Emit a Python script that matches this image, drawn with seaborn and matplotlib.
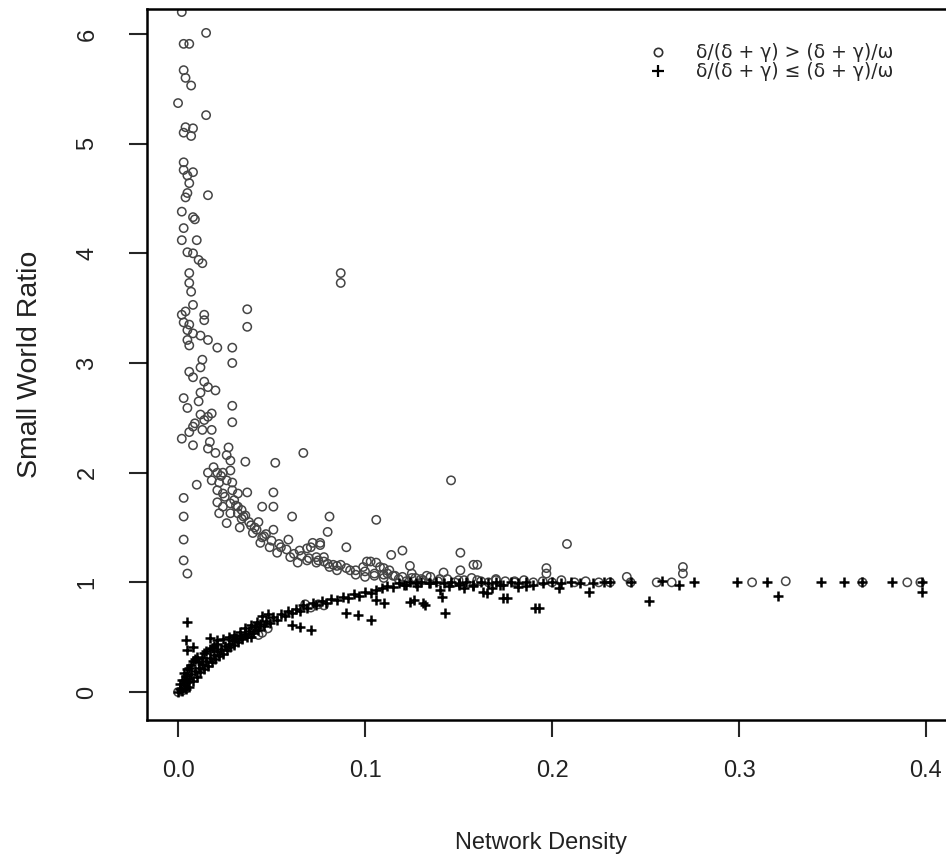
import numpy as np
import pandas as pd
import matplotlib
matplotlib.use("Agg")
import matplotlib.pyplot as plt
from matplotlib.lines import Line2D
import seaborn as sns

# circles: delta/(delta+gamma) > (delta+gamma)/omega
circ_x = [0.002, 0.015, 0.003, 0.006, 0.003, 0.004, 0.007, 0.000, 0.015, 0.004, 0.008, 0.003, 0.007,
          0.003, 0.003, 0.008, 0.005, 0.006, 0.004, 0.005, 0.016, 0.002, 0.008, 0.009, 0.003, 0.002,
          0.010, 0.005, 0.008, 0.011, 0.013, 0.006, 0.006, 0.087, 0.087, 0.007, 0.008, 0.037, 0.002,
          0.014, 0.003, 0.014, 0.037, 0.005, 0.008, 0.012, 0.016, 0.021, 0.029, 0.006, 0.005, 0.029,
          0.013, 0.012, 0.006, 0.008, 0.014, 0.016, 0.020, 0.012, 0.003, 0.005, 0.029, 0.012, 0.016,
          0.014, 0.018, 0.029, 0.008, 0.013, 0.018, 0.006, 0.002, 0.008, 0.016, 0.020, 0.027, 0.026,
          0.028, 0.036, 0.067, 0.052, 0.010, 0.016, 0.021, 0.024, 0.028, 0.018, 0.022, 0.026, 0.029,
          0.021, 0.024, 0.029, 0.032, 0.037, 0.051, 0.003, 0.003, 0.021, 0.024, 0.028, 0.032, 0.034,
          0.045, 0.051, 0.022, 0.028, 0.032, 0.036, 0.061, 0.081, 0.106, 0.026, 0.033, 0.039, 0.043,
          0.040, 0.045, 0.051, 0.080, 0.044, 0.049, 0.055, 0.059, 0.003, 0.090, 0.053, 0.060, 0.065,
          0.071, 0.076, 0.003, 0.005, 0.064, 0.069, 0.074, 0.078, 0.081, 0.085, 0.092, 0.099, 0.103,
          0.108, 0.112, 0.069, 0.072, 0.076, 0.074, 0.078, 0.083, 0.087, 0.114, 0.120, 0.124, 0.101,
          0.106, 0.110, 0.151, 0.151, 0.160, 0.142, 0.158, 0.208, 0.197, 0.197, 0.240, 0.270, 0.270,
          0.325, 0.146,
          0.231, 0.242, 0.256, 0.264, 0.307, 0.366, 0.390, 0.397,
          0.118, 0.122, 0.127, 0.131, 0.135, 0.139, 0.144, 0.148, 0.153, 0.157, 0.162, 0.166, 0.170,
          0.175, 0.180, 0.185, 0.190, 0.195, 0.200, 0.205, 0.212, 0.218, 0.225,
          0.095, 0.100, 0.105, 0.110, 0.116, 0.125, 0.133, 0.113,
          0.030, 0.035, 0.038, 0.042, 0.046, 0.050, 0.054, 0.058, 0.062, 0.066, 0.070, 0.075, 0.080,
          0.085, 0.090, 0.095, 0.100, 0.105, 0.110, 0.115, 0.120, 0.125, 0.130, 0.140, 0.150, 0.160,
          0.170, 0.180,
          0.071, 0.075, 0.078, 0.068, 0.045, 0.048, 0.040, 0.043, 0.000, 0.002, 0.004,
          0.004, 0.006, 0.011, 0.009, 0.017, 0.019, 0.023, 0.025, 0.031, 0.034, 0.041, 0.047]
circ_y = [6.20, 6.01, 5.91, 5.91, 5.67, 5.60, 5.53, 5.37, 5.26, 5.15, 5.14, 5.10, 5.07,
          4.83, 4.76, 4.74, 4.71, 4.64, 4.51, 4.55, 4.53, 4.38, 4.33, 4.31, 4.23, 4.12,
          4.12, 4.01, 4.00, 3.94, 3.91, 3.82, 3.73, 3.82, 3.73, 3.65, 3.53, 3.49, 3.44,
          3.44, 3.37, 3.39, 3.33, 3.30, 3.27, 3.25, 3.21, 3.14, 3.14, 3.16, 3.21, 3.00,
          3.03, 2.96, 2.92, 2.87, 2.83, 2.78, 2.75, 2.73, 2.68, 2.59, 2.61, 2.53, 2.51,
          2.48, 2.54, 2.46, 2.42, 2.39, 2.39, 2.37, 2.31, 2.25, 2.22, 2.18, 2.23, 2.16,
          2.11, 2.10, 2.18, 2.09, 1.89, 2.00, 2.00, 2.00, 2.02, 1.93, 1.91, 1.93, 1.91,
          1.84, 1.81, 1.84, 1.81, 1.82, 1.82, 1.77, 1.60, 1.73, 1.69, 1.72, 1.69, 1.66,
          1.69, 1.69, 1.63, 1.63, 1.63, 1.61, 1.60, 1.60, 1.57, 1.54, 1.50, 1.52, 1.55,
          1.45, 1.41, 1.48, 1.46, 1.36, 1.32, 1.32, 1.39, 1.39, 1.32, 1.27, 1.23, 1.29,
          1.32, 1.36, 1.20, 1.08, 1.18, 1.20, 1.18, 1.23, 1.14, 1.11, 1.11, 1.14, 1.19,
          1.14, 1.08, 1.31, 1.36, 1.34, 1.23, 1.19, 1.16, 1.16, 1.25, 1.29, 1.15, 1.19,
          1.18, 1.13, 1.27, 1.11, 1.16, 1.09, 1.16, 1.35, 1.13, 1.08, 1.05, 1.14, 1.08,
          1.01, 1.93,
          1.00, 1.00, 1.00, 1.00, 1.00, 1.00, 1.00, 1.00,
          1.03, 1.01, 1.04, 1.02, 1.05, 1.01, 1.03, 1.00, 1.02, 1.04, 1.01, 1.00, 1.03,
          1.01, 1.00, 1.02, 1.00, 1.01, 1.00, 1.02, 1.00, 1.01, 1.00,
          1.07, 1.05, 1.06, 1.04, 1.06, 1.08, 1.06, 1.11,
          1.75, 1.60, 1.55, 1.48, 1.42, 1.38, 1.35, 1.30, 1.26, 1.24, 1.22, 1.20, 1.17,
          1.15, 1.13, 1.11, 1.10, 1.08, 1.07, 1.06, 1.05, 1.04, 1.03, 1.03, 1.02, 1.02,
          1.02, 1.01,
          0.77, 0.80, 0.79, 0.80, 0.54, 0.58, 0.56, 0.52, 0.00, 0.01, 0.03,
          3.47, 3.35, 2.65, 2.45, 2.28, 2.05, 1.97, 1.78, 1.70, 1.58, 1.50, 1.44]

# plus signs: delta/(delta+gamma) <= (delta+gamma)/omega
plus_x = [0.000, 0.001, 0.002, 0.003, 0.004, 0.005, 0.006, 0.006, 0.007, 0.008, 0.009, 0.010, 0.011,
          0.012, 0.013, 0.014, 0.015, 0.016, 0.017, 0.018, 0.019, 0.020, 0.021, 0.022, 0.023, 0.024,
          0.025, 0.026, 0.027, 0.028, 0.029, 0.030, 0.031, 0.032, 0.033, 0.034, 0.036, 0.037, 0.038,
          0.040, 0.041, 0.043, 0.044, 0.046, 0.047, 0.049, 0.051, 0.053, 0.055, 0.057, 0.059, 0.061,
          0.063, 0.065, 0.067, 0.069, 0.072, 0.074, 0.077, 0.079, 0.082, 0.085, 0.088, 0.091, 0.094,
          0.097, 0.100, 0.103, 0.106, 0.109, 0.112, 0.115, 0.118, 0.121, 0.124, 0.127, 0.130, 0.134,
          0.138, 0.142, 0.146, 0.150, 0.154, 0.158, 0.162, 0.166, 0.170, 0.174, 0.178, 0.182, 0.186,
          0.190, 0.195, 0.200, 0.205, 0.210, 0.215, 0.222, 0.228,
          0.004, 0.006, 0.008, 0.010, 0.014, 0.018, 0.003,
          0.001, 0.002, 0.003, 0.005, 0.007, 0.009, 0.011, 0.013, 0.015, 0.017, 0.019, 0.021,
          0.024, 0.027, 0.030, 0.033, 0.036, 0.039, 0.042, 0.045, 0.048,
          0.005, 0.004, 0.005, 0.008, 0.017, 0.021, 0.039, 0.061, 0.065, 0.071, 0.090, 0.096, 0.103,
          0.126, 0.131, 0.143, 0.132, 0.141, 0.176, 0.165, 0.193, 0.106, 0.110, 0.124, 0.174, 0.191,
          0.204, 0.220, 0.252, 0.268, 0.321, 0.140, 0.163, 0.398,
          0.231, 0.242, 0.259, 0.276, 0.299, 0.315, 0.344, 0.356, 0.366, 0.382, 0.398,
          0.122, 0.128, 0.135, 0.145, 0.150, 0.158, 0.172, 0.186, 0.153, 0.168, 0.182]
plus_y = [0.00, 0.03, 0.01, 0.06, 0.03, 0.09, 0.12, 0.05, 0.16, 0.10, 0.19, 0.14, 0.22,
          0.18, 0.26, 0.21, 0.28, 0.24, 0.31, 0.27, 0.34, 0.30, 0.37, 0.33, 0.39, 0.35,
          0.42, 0.38, 0.44, 0.41, 0.47, 0.43, 0.49, 0.46, 0.51, 0.48, 0.53, 0.50, 0.56,
          0.54, 0.59, 0.57, 0.62, 0.60, 0.65, 0.63, 0.68, 0.66, 0.71, 0.69, 0.74, 0.72,
          0.76, 0.74, 0.79, 0.77, 0.81, 0.79, 0.83, 0.81, 0.85, 0.84, 0.87, 0.86, 0.89,
          0.88, 0.91, 0.90, 0.93, 0.95, 0.97, 0.96, 0.99, 0.98, 1.00, 0.99, 1.00, 0.99,
          1.00, 0.99, 1.00, 0.99, 1.00, 0.98, 1.00, 0.99, 1.00, 0.98, 1.00, 0.99, 1.00,
          0.98, 0.99, 1.00, 0.99, 1.00, 0.99, 0.99, 1.00,
          0.15, 0.22, 0.28, 0.32, 0.36, 0.40, 0.10,
          0.07, 0.11, 0.17, 0.21, 0.25, 0.30, 0.27, 0.31, 0.37, 0.39, 0.42, 0.44,
          0.48, 0.50, 0.52, 0.55, 0.58, 0.61, 0.64, 0.69, 0.71,
          0.64, 0.47, 0.38, 0.41, 0.49, 0.47, 0.50, 0.61, 0.59, 0.57, 0.72, 0.70, 0.66,
          0.84, 0.81, 0.72, 0.79, 0.87, 0.86, 0.90, 0.77, 0.84, 0.81, 0.82, 0.86, 0.77,
          0.95, 0.91, 0.83, 0.98, 0.88, 0.93, 0.91, 0.91,
          1.00, 1.00, 1.01, 1.00, 1.00, 1.00, 1.00, 1.00, 1.00, 1.00, 1.00,
          0.98, 0.97, 0.99, 0.97, 0.98, 0.97, 0.98, 0.97, 0.95, 0.95, 0.96]

x_ticks = [0.0, 0.1, 0.2, 0.3, 0.4]
x_tick_labels = ["0.0", "0.1", "0.2", "0.3", "0.4"]
y_ticks = [0, 1, 2, 3, 4, 5, 6]
legend_labels = ["δ/(δ + γ) > (δ + γ)/ω", "δ/(δ + γ) ≤ (δ + γ)/ω"]

circ = pd.DataFrame({"density": circ_x, "ratio": circ_y})
plus = pd.DataFrame({"density": plus_x, "ratio": plus_y})

sns.set_style("ticks")
plt.rcParams["font.family"] = ["Liberation Sans", "DejaVu Sans"]

fig = plt.figure(figsize=(9.46, 8.55), dpi=100)
ax = fig.add_axes([0.1554, 0.1579, 0.8446, 0.8316])

sns.scatterplot(data=circ, x="density", y="ratio", marker="o", s=36,
                facecolor="none", edgecolor="#454545", linewidth=1.1, ax=ax)
sns.scatterplot(data=plus, x="density", y="ratio", marker="+", s=60,
                color="black", linewidth=1.8, ax=ax)

ax.set_xlim(-0.0166, 0.4107)
ax.set_ylim(-0.255, 6.228)
ax.set_xticks(x_ticks)
ax.set_xticklabels(x_tick_labels)
ax.set_yticks(y_ticks)
ax.set_yticklabels([str(v) for v in y_ticks], rotation=90, va="center")

for side in ["left", "top", "bottom"]:
    ax.spines[side].set_linewidth(1.8)
    ax.spines[side].set_color("black")
ax.spines["right"].set_visible(False)

ax.tick_params(axis="x", length=12, width=1.5, pad=17, labelsize=17, labelcolor="#222222")
ax.tick_params(axis="y", length=13, width=1.5, pad=22, labelsize=17, labelcolor="#222222")

ax.set_xlabel("Network Density", fontsize=17, color="#222222")
ax.set_ylabel("Small World Ratio", fontsize=20.5, color="#222222")
ax.xaxis.set_label_coords(0.493, -0.1575)
ax.yaxis.set_label_coords(-0.13, 0.5)

handles = [Line2D([], [], marker="o", ls="none", mfc="none", mec="#303030", ms=6, mew=1.2),
           Line2D([], [], marker="+", ls="none", color="black", ms=8, mew=1.6)]
ax.legend(handles, legend_labels, loc="upper left", bbox_to_anchor=(0.628, 0.952),
          frameon=False, prop={"family": ["DejaVu Sans"], "size": 13.5},
          handlelength=1.0, handletextpad=1.5, labelspacing=0.0,
          borderpad=0, borderaxespad=0)

fig.savefig("out.png", dpi=100)
